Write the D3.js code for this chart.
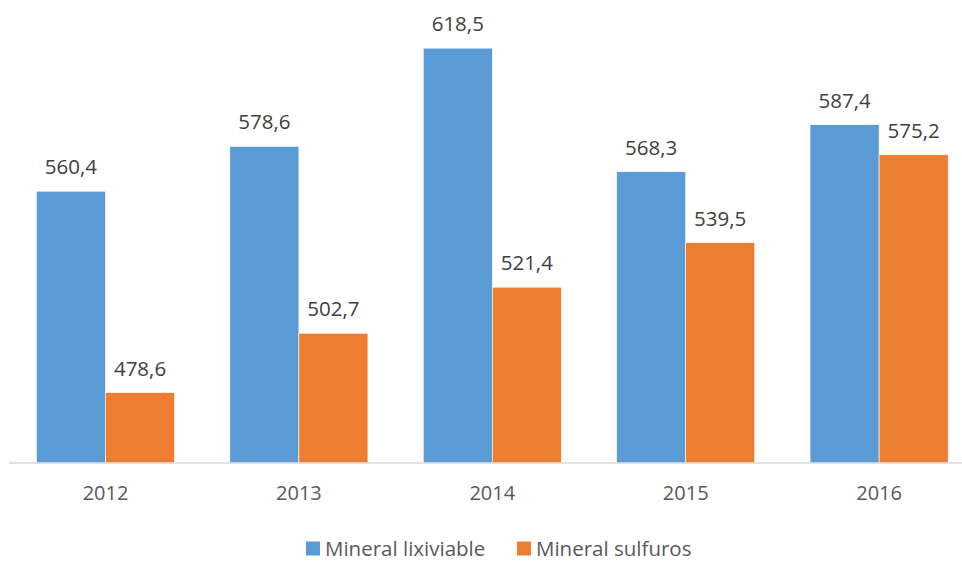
<!DOCTYPE html>
<html>
<head>
<meta charset="utf-8">
<script src="https://cdn.jsdelivr.net/npm/d3@7"></script>
<style>
  body { margin: 0; background: #fff; }
  svg { display: block; font-family: "Open Sans", sans-serif; }
</style>
</head>
<body>
<div id="chart"></div>
<script>
var years = ["2012", "2013", "2014", "2015", "2016"];
var seriesNames = ["Mineral lixiviable", "Mineral sulfuros"];
var lixiviable = [560.4, 578.6, 618.5, 568.3, 587.4];
var sulfuros = [478.6, 502.7, 521.4, 539.5, 575.2];
var colors = ["#5B9BD5", "#ED7D31"];

var width = 962, height = 562;
var baseY = 463;

var svg = d3.select("#chart")
    .append("svg")
    .attr("width", width)
    .attr("height", height);

var x = d3.scaleBand()
    .domain(years)
    .range([8.8, 975.8])
    .paddingInner(0.286)
    .paddingOuter(0.143);

var xInner = d3.scaleBand()
    .domain(seriesNames)
    .range([0, x.bandwidth()]);

var y = d3.scaleLinear()
    .domain([450, 620])
    .range([baseY, baseY - 170 * 2.462]);

var fmt = function(v) { return d3.format(".1f")(v).replace(".", ","); };

var rows = years.map(function(yr, i) {
    return { year: yr, values: [lixiviable[i], sulfuros[i]] };
});

var groups = svg.append("g")
    .selectAll("g")
    .data(rows)
    .enter()
    .append("g")
    .attr("transform", d => "translate(" + x(d.year) + ",0)");

groups.selectAll("rect")
    .data(d => d.values.map((v, j) => ({ name: seriesNames[j], value: v, j: j })))
    .enter()
    .append("rect")
    .attr("x", d => xInner(d.name))
    .attr("y", d => y(d.value))
    .attr("width", xInner.bandwidth())
    .attr("height", d => baseY - y(d.value))
    .attr("fill", d => colors[d.j])
    .attr("stroke", "#fff")
    .attr("stroke-width", 0.6);

groups.selectAll("text")
    .data(d => d.values.map((v, j) => ({ name: seriesNames[j], value: v })))
    .enter()
    .append("text")
    .attr("x", d => xInner(d.name) + xInner.bandwidth() / 2)
    .attr("y", d => y(d.value) - 17)
    .attr("text-anchor", "middle")
    .attr("font-size", "20.5px")
    .attr("fill", "#404040")
    .text(d => fmt(d.value));

// x axis
var xAxis = svg.append("g")
    .attr("transform", "translate(0," + baseY + ")")
    .call(d3.axisBottom(x).tickSize(0).tickPadding(23));

xAxis.select(".domain").remove();
xAxis.append("line")
    .attr("x1", 9).attr("x2", width)
    .attr("y1", 0).attr("y2", 0)
    .attr("stroke", "#d9d9d9")
    .attr("stroke-width", 1.5);
xAxis.selectAll("text")
    .attr("font-family", "Open Sans, sans-serif")
    .attr("font-size", "20px")
    .attr("fill", "#595959");

// legend
var legendItems = [
    { name: seriesNames[0], color: colors[0], x: 306 },
    { name: seriesNames[1], color: colors[1], x: 517 }
];
var legend = svg.append("g");
legendItems.forEach(function(it) {
    legend.append("rect")
        .attr("x", it.x).attr("y", 541.5)
        .attr("width", 14).attr("height", 14)
        .attr("fill", it.color);
    legend.append("text")
        .attr("x", it.x + 19).attr("y", 556)
        .attr("font-size", "20.5px")
        .attr("fill", "#595959")
        .text(it.name);
});
</script>
</body>
</html>
